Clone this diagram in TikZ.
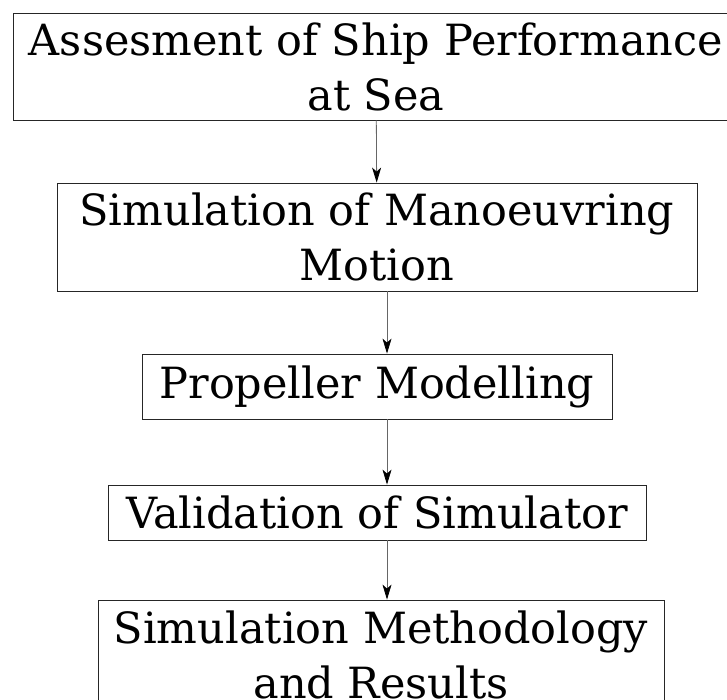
\documentclass[tikz,border=0pt]{standalone}
\usepackage{fontspec}
\setmainfont{DejaVu Serif}
\usetikzlibrary{arrows.meta}

\begin{document}
\begin{tikzpicture}[x=1pt,y=-1pt]
    \useasboundingbox (0,0) rectangle (727,700);
    \begin{scope}[every node/.style={draw=black!85,line width=0.8pt,inner sep=0pt,align=center,
        font=\fontsize{43}{55}\selectfont}]
        \node[minimum width=726pt,minimum height=107pt] (1) at (376,66.5) {Assesment of Ship Performance\\at Sea};
        \node[minimum width=640pt,minimum height=108pt] (2) at (377,237) {Simulation of Manoeuvring\\Motion};
        \node[minimum width=470pt,minimum height=65pt] (3) at (377,386.5) {Propeller Modelling};
        \node[minimum width=538pt,minimum height=55pt] (4) at (377,512.5) {Validation of Simulator};
        \node[minimum width=566pt,minimum height=110pt] (5) at (381,655) {Simulation Methodology\\and Results};
    \end{scope}
    \begin{scope}[>={Stealth[black,length=15pt,width=9pt,inset=4pt]},
        every path/.style={line width=0.8pt}]
        \draw [->,black!60] (1) -- (2);
        \draw [->,black!60] ([xshift=10pt]2.south) -- ([xshift=10pt]2.south |- 3.north);
        \draw [->,black!60] ([xshift=10pt]3.south) -- ([xshift=10pt]3.south |- 4.north);
        \draw [->,black!60] ([xshift=10pt]4.south) -- ([xshift=10pt]4.south |- 5.north);
    \end{scope}
\end{tikzpicture}
\end{document}
